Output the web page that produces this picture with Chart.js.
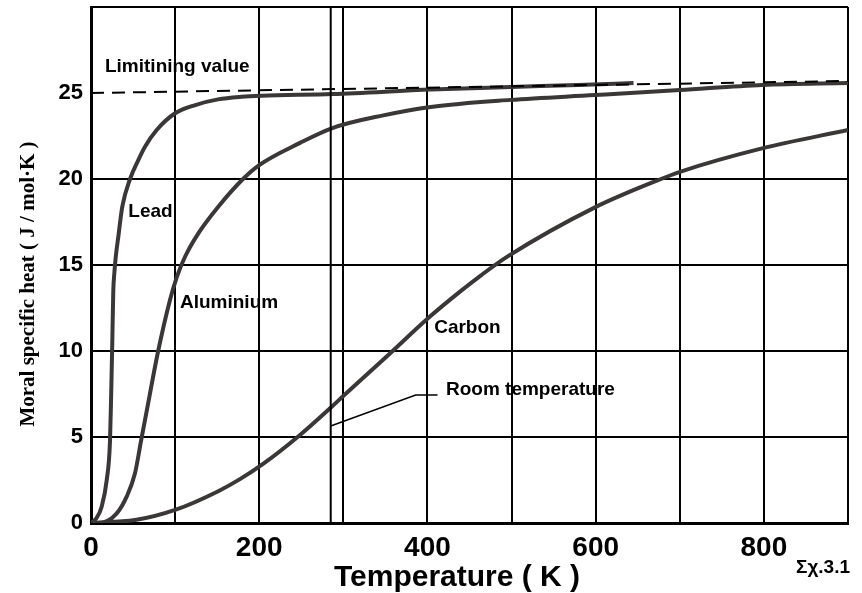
<!DOCTYPE html>
<html>
<head>
<meta charset="utf-8">
<script src="https://cdn.jsdelivr.net/npm/chart.js@4/dist/chart.umd.min.js"></script>
<style>
  html, body { margin: 0; padding: 0; background: #fff; }
</style>
</head>
<body>
<canvas id="heatChart" width="862" height="593"></canvas>
<script>
// temperatures (K) and molar specific heat (J / mol·K)
const leadT = [0, 6, 12.7, 18.7, 22.6, 24, 25.3, 26.5, 27.7, 29.5, 32.5, 37.2, 46.4, 56.2, 64.2, 78.1, 100, 124, 151, 179, 203, 287, 404, 499, 579, 645];
const leadC = [0, 0.25, 0.95, 2.5, 4.77, 7.5, 10.5, 13.5, 14.5, 15.5, 16.65, 18.39, 20, 21.1, 21.88, 22.85, 23.82, 24.3, 24.63, 24.78, 24.84, 24.94, 25.2, 25.35, 25.47, 25.58];

const aluminiumT = [0, 12.7, 30.6, 42.4, 52.3, 59.5, 67.2, 79.3, 93.9, 102, 111.8, 127.6, 151.3, 180.7, 200, 248.5, 286.2, 347.5, 404, 499, 599, 700, 798, 900];
const aluminiumC = [0, 0.02, 0.56, 1.53, 2.89, 4.77, 6.76, 9.87, 12.97, 14.3, 15.48, 16.84, 18.39, 20, 20.81, 22.1, 22.95, 23.7, 24.19, 24.6, 24.88, 25.17, 25.47, 25.58];

const carbonT = [0, 52.3, 100, 151.3, 177.1, 205, 248.5, 286.2, 301.2, 353.5, 403, 438.7, 463.7, 495.4, 599.2, 677.7, 700.3, 797.8, 900];
const carbonC = [0, 0.17, 0.76, 1.85, 2.55, 3.45, 5.12, 6.76, 7.44, 9.77, 12.0, 13.45, 14.4, 15.5, 18.35, 20.0, 20.42, 21.78, 22.85];

// dashed "limiting value" line (drawn slightly tilted, as in the scan)
const limitT = [0, 900];
const limitC = [25.0, 25.7];

// room temperature marker and its pointer
const roomTemp = 285;
const pointerT = [285, 386, 412];
const pointerC = [5.64, 7.44, 7.44];

const xTickLabels = ['0', '200', '400', '600', '800'];
const yTickLabels = ['0', '5', '10', '15', '20', '25'];

function toPoints(xs, ys) {
    return xs.map((x, i) => ({ x: x, y: ys[i] }));
}

const curveColor = '#3b3737';
const sans = "'Liberation Sans', Arial, sans-serif";
Chart.defaults.font.family = sans;
Chart.defaults.color = '#000';

// free text on the chart: curve names, axis titles, figure number
const textPlugin = {
    id: 'textPlugin',
    afterDatasetsDraw(chart) {
        const ctx = chart.ctx;
        const xs = chart.scales.x;
        const ys = chart.scales.y;
        const labels = [
            { text: 'Limitining value', x: 16.6, y: 26.2 },
            { text: 'Lead', x: 44.4, y: 17.8 },
            { text: 'Aluminium', x: 105.8, y: 12.5 },
            { text: 'Carbon', x: 408, y: 11.03 },
            { text: 'Room temperature', x: 422, y: 7.44 }
        ];
        ctx.save();
        ctx.fillStyle = '#000';
        ctx.textBaseline = 'alphabetic';
        ctx.textAlign = 'left';
        ctx.font = 'bold 19px ' + sans;
        labels.forEach(l => {
            ctx.fillText(l.text, xs.getPixelForValue(l.x), ys.getPixelForValue(l.y));
        });

        // x axis title
        ctx.textAlign = 'center';
        ctx.font = 'bold 30px ' + sans;
        ctx.fillText('Temperature ( K )', 457, 586);

        // figure number
        ctx.textAlign = 'left';
        ctx.font = 'bold 19px ' + sans;
        ctx.fillText('Σχ.3.1', 796, 573);

        // y axis title
        ctx.translate(29, 284);
        ctx.rotate(-Math.PI / 2);
        ctx.textAlign = 'center';
        ctx.textBaseline = 'middle';
        ctx.font = "bold 21px 'Liberation Serif', 'Times New Roman', serif";
        ctx.fillText('Moral specific heat ( J / mol·K )', 0, 0);
        ctx.restore();
    }
};

new Chart(document.getElementById('heatChart'), {
    type: 'line',
    data: {
        datasets: [
            {
                label: 'Limiting value',
                data: toPoints(limitT, limitC),
                borderColor: '#000',
                borderWidth: 2,
                borderDash: [13, 8],
                pointRadius: 0
            },
            {
                label: 'Room temperature',
                data: [{ x: roomTemp, y: 0 }, { x: roomTemp, y: 30 }],
                borderColor: '#000',
                borderWidth: 2,
                pointRadius: 0
            },
            {
                label: 'Pointer',
                data: toPoints(pointerT, pointerC),
                borderColor: '#000',
                borderWidth: 1.5,
                pointRadius: 0
            },
            {
                label: 'Lead',
                data: toPoints(leadT, leadC),
                borderColor: curveColor,
                borderWidth: 4,
                pointRadius: 0,
                cubicInterpolationMode: 'monotone'
            },
            {
                label: 'Aluminium',
                data: toPoints(aluminiumT, aluminiumC),
                borderColor: curveColor,
                borderWidth: 4,
                pointRadius: 0,
                cubicInterpolationMode: 'monotone'
            },
            {
                label: 'Carbon',
                data: toPoints(carbonT, carbonC),
                borderColor: curveColor,
                borderWidth: 4,
                pointRadius: 0,
                cubicInterpolationMode: 'monotone'
            }
        ]
    },
    options: {
        responsive: false,
        animation: false,
        devicePixelRatio: 1,
        layout: {
            padding: { left: 0, right: 14, top: 7, bottom: 0 }
        },
        plugins: {
            legend: { display: false },
            tooltip: { enabled: false }
        },
        scales: {
            x: {
                type: 'linear',
                min: 0,
                max: 900,
                afterFit: function (scale) {
                    scale.height = 70;
                    scale.paddingLeft = 0;
                    scale.paddingRight = 0;
                },
                border: { color: '#000', width: 3 },
                grid: {
                    color: '#000',
                    lineWidth: 2,
                    drawTicks: false
                },
                ticks: {
                    stepSize: 100,
                    padding: 8,
                    maxRotation: 0,
                    autoSkip: false,
                    font: { size: 28, weight: 'bold' },
                    callback: function (value) {
                        const s = String(value);
                        return xTickLabels.includes(s) ? s : '';
                    }
                }
            },
            y: {
                min: 0,
                max: 30,
                afterFit: function (scale) {
                    scale.width = 91;
                    scale.paddingTop = 0;
                    scale.paddingBottom = 0;
                },
                border: { color: '#000', width: 3 },
                grid: {
                    color: ctx => (ctx.tick && ctx.tick.value === 25) ? 'rgba(0,0,0,0)' : '#000',
                    lineWidth: 2,
                    drawTicks: false
                },
                ticks: {
                    stepSize: 5,
                    padding: 8,
                    font: { size: 22, weight: 'bold' },
                    callback: function (value) {
                        const s = String(value);
                        return yTickLabels.includes(s) ? s : '';
                    }
                }
            }
        }
    },
    plugins: [textPlugin]
});
</script>
</body>
</html>
